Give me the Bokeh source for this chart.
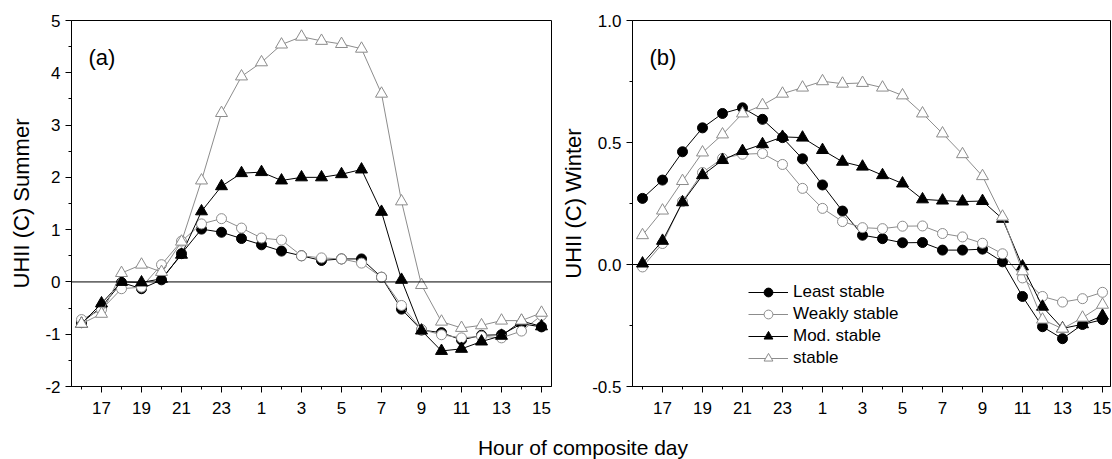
from bokeh.plotting import figure
from bokeh.models import FixedTicker, Span, Legend, LegendItem, Label, Range1d
from bokeh.layouts import row, column
from bokeh.embed import file_html
from bokeh.resources import INLINE

# ---------------- data ----------------
hours = [16, 17, 18, 19, 20, 21, 22, 23, 0, 1, 2, 3, 4, 5, 6, 7, 8, 9, 10, 11, 12, 13, 14, 15]

series_names = ["Least stable", "Weakly stable", "Mod. stable", "stable"]

summer_least = [-0.78, -0.48, -0.01, -0.13, 0.04, 0.54, 1.01, 0.95, 0.83, 0.71, 0.59, 0.50,
                0.41, 0.44, 0.44, 0.09, -0.52, -0.92, -0.97, -1.11, -1.02, -1.01, -0.80, -0.86]
summer_weak = [-0.72, -0.53, -0.13, -0.10, 0.33, 0.78, 1.11, 1.21, 1.03, 0.84, 0.80, 0.50,
               0.46, 0.44, 0.36, 0.09, -0.45, -0.91, -1.01, -1.07, -1.04, -1.07, -0.94, -0.64]
summer_mod = [-0.80, -0.41, 0.00, -0.01, 0.06, 0.52, 1.35, 1.83, 2.08, 2.10, 1.94, 2.00,
              2.00, 2.06, 2.15, 1.34, 0.04, -0.93, -1.32, -1.28, -1.14, -1.03, -0.75, -0.85]
summer_stable = [-0.80, -0.61, 0.17, 0.33, 0.19, 0.77, 1.94, 3.23, 3.93, 4.20, 4.54, 4.69,
                 4.61, 4.55, 4.46, 3.60, 1.54, -0.06, -0.76, -0.88, -0.83, -0.74, -0.74, -0.59]

winter_least = [0.271, 0.346, 0.462, 0.560, 0.619, 0.642, 0.595, 0.520, 0.433, 0.326, 0.219, 0.120,
                0.106, 0.089, 0.090, 0.059, 0.059, 0.063, 0.011, -0.131, -0.255, -0.304, -0.246, -0.226]
winter_weak = [-0.010, 0.086, 0.258, 0.377, 0.435, 0.452, 0.455, 0.410, 0.312, 0.230, 0.176, 0.151,
               0.147, 0.157, 0.158, 0.127, 0.113, 0.087, 0.044, -0.055, -0.131, -0.154, -0.140, -0.114]
winter_mod = [0.004, 0.097, 0.255, 0.366, 0.428, 0.465, 0.493, 0.523, 0.520, 0.469, 0.421, 0.401,
              0.366, 0.332, 0.267, 0.262, 0.258, 0.260, 0.187, -0.008, -0.173, -0.262, -0.245, -0.210]
winter_stable = [0.120, 0.221, 0.342, 0.459, 0.533, 0.619, 0.653, 0.700, 0.725, 0.751, 0.741, 0.744,
                 0.725, 0.693, 0.619, 0.537, 0.452, 0.362, 0.196, -0.028, -0.226, -0.263, -0.218, -0.165]

summer_yticks = [-2, -1, 0, 1, 2, 3, 4, 5]
winter_yticks = [-0.5, 0.0, 0.5, 1.0]
winter_ylabels = ["-0.5", "0.0", "0.5", "1.0"]

# ---------------- style ----------------
FONT = "Liberation Sans"
GRAY = "#8c8c8c"
styles = [  # marker, line colour, fill colour, size
    ("circle", "black", "black", 10),
    ("circle", GRAY, "white", 10),
    ("triangle", "black", "black", 12),
    ("triangle", GRAY, "white", 12),
]

xpos = [16 + i for i in range(len(hours))]
x_major = xpos[1::2]
x_minor = xpos[0::2]
x_overrides = {x: str(h) for x, h in zip(xpos, hours)}


def style_axis(ax):
    ax.axis_line_color = "black"
    ax.major_tick_line_color = "black"
    ax.minor_tick_line_color = "black"
    ax.major_tick_out = 6
    ax.major_tick_in = 0
    ax.minor_tick_out = 3
    ax.minor_tick_in = 0
    ax.major_label_text_font = FONT
    ax.major_label_text_font_size = "17px"
    ax.major_label_text_color = "black"
    ax.axis_label_text_font = FONT
    ax.axis_label_text_font_size = "22px"
    ax.axis_label_text_font_style = "normal"
    ax.axis_label_text_color = "black"


def make_panel(ylist, yr, yticks, yminor, ylabels, ytitle, tag, fw, xend, bl, br, lstand):
    p = figure(frame_width=fw, frame_height=366,
               x_range=Range1d(15.5, xend), y_range=Range1d(*yr),
               output_backend="svg", toolbar_location=None,
               min_border_left=bl, min_border_right=br, min_border_top=20, min_border_bottom=36)
    p.xgrid.visible = False
    p.ygrid.visible = False
    p.outline_line_color = "black"
    p.outline_line_width = 1
    p.outline_line_alpha = 1
    p.background_fill_color = "white"
    p.border_fill_color = "white"

    p.add_layout(Span(location=0, dimension="width", line_color="black", line_width=1))

    rends = []
    for ys, (mk, lc, fc, sz) in zip(ylist, styles):
        lr = p.line(xpos, ys, line_color=lc, line_width=1)
        sr = p.scatter(xpos, ys, marker=mk, size=sz, line_color=lc, fill_color=fc, line_width=1)
        rends.append((lr, sr))

    p.xaxis.ticker = FixedTicker(ticks=x_major, minor_ticks=x_minor)
    p.xaxis.major_label_overrides = x_overrides
    p.xaxis.major_label_standoff = 9
    p.yaxis.ticker = FixedTicker(ticks=yticks, minor_ticks=yminor)
    p.yaxis.major_label_overrides = {t: l for t, l in zip(yticks, ylabels)}
    p.yaxis.major_label_standoff = 5
    p.yaxis.axis_label = ytitle
    p.yaxis.axis_label_standoff = lstand
    style_axis(p.xaxis[0])
    style_axis(p.yaxis[0])

    p.add_layout(Label(x=17, y=329, x_units="screen", y_units="screen", text=tag,
                       text_font=FONT, text_font_size="22px", text_color="black",
                       text_baseline="alphabetic", text_align="left"))
    return p, rends


p1, r1 = make_panel([summer_least, summer_weak, summer_mod, summer_stable],
                    (-2, 5), summer_yticks, [-1.5, -0.5, 0.5, 1.5, 2.5, 3.5, 4.5],
                    [str(t) for t in summer_yticks], "UHII (C) Summer", "(a)",
                    480, 39.5, 71, 2, 8)
p2, r2 = make_panel([winter_least, winter_weak, winter_mod, winter_stable],
                    (-0.5, 1.0), winter_yticks, [-0.25, 0.25, 0.75],
                    winter_ylabels, "UHII (C) Winter", "(b)",
                    478, 39.4, 79, 1, 3)

legend = Legend(items=[LegendItem(label=n, renderers=list(rr)) for n, rr in zip(series_names, r2)],
                location=(116, 17), glyph_width=40, glyph_height=22, label_height=22,
                spacing=0, padding=0, margin=0, label_standoff=5,
                label_text_font=FONT, label_text_font_size="17px", label_text_color="black",
                border_line_color=None, background_fill_alpha=0)
p2.add_layout(legend)

pt = figure(width=1111, height=37, x_range=Range1d(0, 1111), y_range=Range1d(0, 37),
            output_backend="svg", toolbar_location=None, title=None,
            x_axis_location=None, y_axis_location=None,
            min_border_left=0, min_border_right=0, min_border_top=0, min_border_bottom=0)
pt.xgrid.visible = False
pt.ygrid.visible = False
pt.outline_line_color = None
pt.add_layout(Label(x=582.5, y=12, text="Hour of composite day", text_font=FONT,
                    text_font_size="21px", text_color="black",
                    text_align="center", text_baseline="alphabetic"))

layout = column(row(p1, p2), pt)
open("out.html", "w").write(file_html(layout, INLINE))
